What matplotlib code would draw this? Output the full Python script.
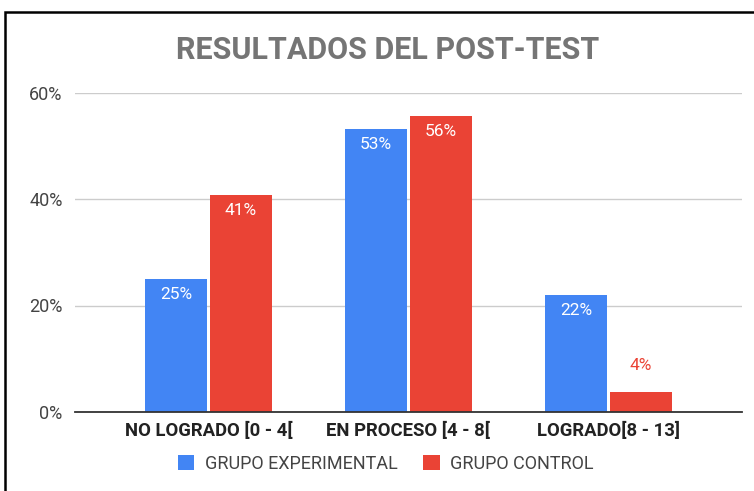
import matplotlib.pyplot as plt
from matplotlib.patches import Rectangle
import numpy as np

plt.rcParams['font.family'] = ['Roboto', 'DejaVu Sans']

categories = ["NO LOGRADO [0 - 4[", "EN PROCESO [4 - 8[", "LOGRADO[8 - 13]"]
experimental = [25.0, 53.1, 21.9]
control = [40.7, 55.6, 3.7]
series_names = ["GRUPO EXPERIMENTAL", "GRUPO CONTROL"]
yticks = [0, 20, 40, 60]

blue = "#4285F4"
red = "#EA4335"

fig = plt.figure(figsize=(7.54, 4.91), dpi=100)
ax = fig.add_axes([75 / 754, 1 - 412 / 491, 667 / 754, 319.5 / 491])

x = np.arange(len(categories))
width = 0.31
off = 0.1625
b1 = ax.bar(x - off, experimental, width, color=blue, label=series_names[0], zorder=3)
b2 = ax.bar(x + off, control, width, color=red, label=series_names[1], zorder=3)

# labels: inside the bar if it is tall enough, otherwise above it
for bars, vals, col in [(b1, experimental, blue), (b2, control, red)]:
    for bar, v in zip(bars, vals):
        cx = bar.get_x() + bar.get_width() / 2
        txt = f"{v:.0f}%"
        if v > 10:
            ax.text(cx, v - 2.9, txt, ha="center", va="center", color="white", fontsize=12.5, zorder=4)
        else:
            ax.text(cx, v + 5.1, txt, ha="center", va="center", color=col, fontsize=12.5, zorder=4)

ax.set_xlim(-0.6675, 2.6675)
ax.set_ylim(0, 60)
ax.set_yticks(yticks)
ax.set_yticklabels([f"{t}%" for t in yticks], color="#444444", fontsize=13)
ax.set_xticks(x)
ax.set_xticklabels(categories, fontweight="bold", fontsize=13.3, color="#222222")
ax.tick_params(axis="both", length=0)
ax.tick_params(axis="y", pad=9)
ax.tick_params(axis="x", pad=7)
ax.grid(axis="y", color="#cccccc", linewidth=1, zorder=0)
for s in ["top", "right", "left"]:
    ax.spines[s].set_visible(False)
ax.spines["bottom"].set_color("#333333")
ax.spines["bottom"].set_linewidth(1.3)
ax.spines["bottom"].set_zorder(5)

fig.text(387.5 / 754, 1 - 50 / 491, "RESULTADOS DEL POST-TEST", ha="center", va="center",
         fontsize=22, fontweight="bold", color="#757575")

fig.legend(handles=[b1, b2], loc="center", bbox_to_anchor=(386 / 754, 1 - 464 / 491),
           ncol=2, frameon=False, fontsize=13, handlelength=0.9, handleheight=0.9,
           handletextpad=0.6, columnspacing=1.4, labelcolor="#444444")

# black frame around the chart (right/bottom edges fall outside the image)
fig.patches.append(Rectangle((5 / 754, -0.1), 1.2, 1 - 12 / 491 + 0.1, transform=fig.transFigure,
                             fill=False, edgecolor="black", linewidth=1.8))

fig.savefig("out.png", dpi=100)
